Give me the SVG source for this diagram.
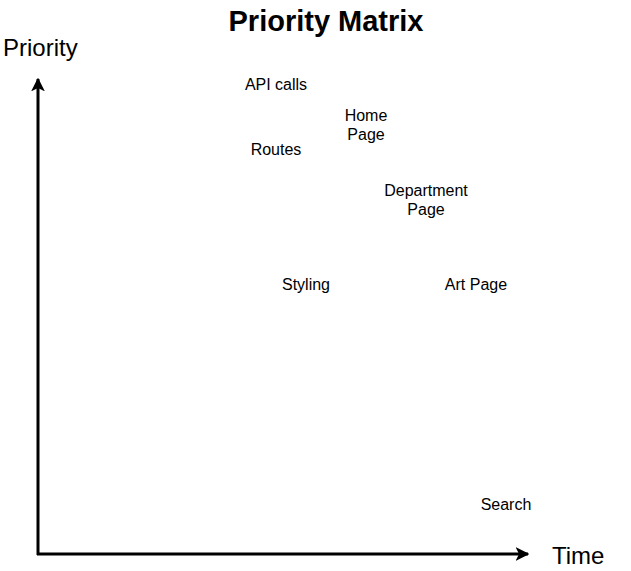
<svg xmlns="http://www.w3.org/2000/svg" width="631" height="571" viewBox="0 0 631 571">
<style>
text{font-family:"Liberation Sans",Arial,sans-serif;fill:#000}
.lbl{font-size:16px;text-anchor:middle}
.axis{stroke:#000;stroke-width:3;fill:none}
</style>
<defs>
<marker id="arr" viewBox="0 0 10 10" refX="9" refY="5" markerWidth="4.6" markerHeight="4.6" markerUnits="strokeWidth" orient="auto">
<path d="M0,0 L10,5 L0,10 L2.5,5 Z" fill="#000"/>
</marker>
</defs>
<rect width="631" height="571" fill="#fff"/>
<text x="326" y="31" font-size="29" font-weight="bold" text-anchor="middle">Priority Matrix</text>
<text x="3" y="56" font-size="24">Priority</text>
<text x="552" y="564" font-size="24">Time</text>
<g id="connectors">
<path class="axis" d="M38,555 L38,79" marker-end="url(#arr)"/>
<path class="axis" d="M37,554 L528,554" marker-end="url(#arr)"/>
</g>
<g id="api"><text class="lbl" x="276" y="90">API calls</text></g>
<g id="home"><text class="lbl" x="366" y="121">Home</text><text class="lbl" x="366" y="140">Page</text></g>
<g id="routes"><text class="lbl" x="276" y="155">Routes</text></g>
<g id="dept"><text class="lbl" x="426" y="196">Department</text><text class="lbl" x="426" y="215">Page</text></g>
<g id="styling"><text class="lbl" x="306" y="290">Styling</text></g>
<g id="art"><text class="lbl" x="476" y="290">Art Page</text></g>
<g id="search"><text class="lbl" x="506" y="510">Search</text></g>
</svg>
